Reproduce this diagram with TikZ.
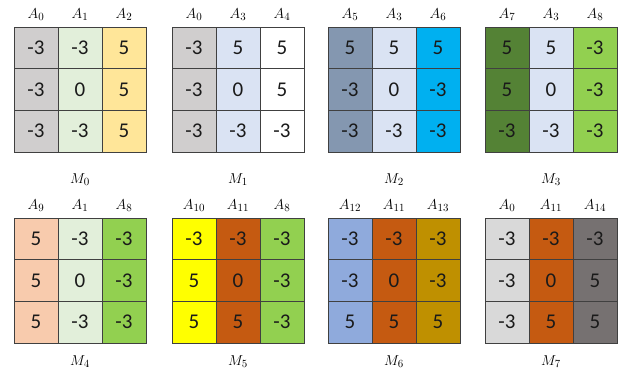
\documentclass[tikz,border=0pt]{standalone}
\usepackage{fontspec}
\setsansfont{Carlito}
\definecolor{gridc}{HTML}{404040}
\definecolor{cgray}{HTML}{D0CECE}
\definecolor{clgray}{HTML}{D9D9D9}
\definecolor{clgreen}{HTML}{E2EFDA}
\definecolor{clyel}{HTML}{FFE699}
\definecolor{clblue}{HTML}{DAE3F3}
\definecolor{cbgray}{HTML}{8497B0}
\definecolor{ccyan}{HTML}{00B0F0}
\definecolor{cdgreen}{HTML}{548235}
\definecolor{cgreen}{HTML}{92D050}
\definecolor{cpeach}{HTML}{F8CBAD}
\definecolor{cyellow}{HTML}{FFFF00}
\definecolor{corange}{HTML}{C55A11}
\definecolor{ccblue}{HTML}{8FAADC}
\definecolor{cgold}{HTML}{BF9000}
\definecolor{cdgray}{HTML}{767171}
\definecolor{cwhite}{HTML}{FFFFFF}
\definecolor{numc}{HTML}{1A1A1A}
% #1 name, #2 left x, #3 top y, #4 columns, #5 label, #6 label y
\newcommand\mygrid[6]{%
  \foreach \c/\col/\hd/\va/\vb/\vc in {#4} {
    \node[cell, fill=\col] (#1-\c-1) at ({#2+(\c-0.5)*44}, {#3+41.67*0.5}) {\va};
    \node[cell, fill=\col] (#1-\c-2) at ({#2+(\c-0.5)*44}, {#3+41.67*1.5}) {\vb};
    \node[cell, fill=\col] (#1-\c-3) at ({#2+(\c-0.5)*44}, {#3+41.67*2.5}) {\vc};
    \node[hdr] (#1-h\c) at ({#2+(\c-0.5)*44}, {#3-12}) {$\hd$};
  }
  \node[hdr] (#1-lab) at ({#2+66}, {#6}) {$#5$};
}
\begin{document}
\begin{tikzpicture}[x=1pt,y=-1pt,
  cell/.style={draw=gridc, line width=0.8pt, minimum width=44pt, minimum height=41.67pt,
    inner sep=0pt, text=numc, font=\sffamily\fontsize{21}{21}\selectfont},
  hdr/.style={inner sep=0pt, font=\fontsize{15}{15}\selectfont}]
\useasboundingbox (0,0) rectangle (630,374);
\mygrid{m0}{14}{27}{1/cgray/A_0/-3/-3/-3, 2/clgreen/A_1/-3/0/-3, 3/clyel/A_2/5/5/5}{M_0}{180}
\mygrid{m1}{172}{27}{1/cgray/A_0/-3/-3/-3, 2/clblue/A_3/5/0/-3, 3/cwhite/A_4/5/5/-3}{M_1}{180}
\mygrid{m2}{328}{27}{1/cbgray/A_5/5/-3/-3, 2/clblue/A_3/5/0/-3, 3/ccyan/A_6/5/-3/-3}{M_2}{180}
\mygrid{m3}{485}{27}{1/cdgreen/A_7/5/5/-3, 2/clblue/A_3/5/0/-3, 3/cgreen/A_8/-3/-3/-3}{M_3}{180}
\mygrid{m4}{14}{218}{1/cpeach/A_9/5/5/5, 2/clgreen/A_1/-3/0/-3, 3/cgreen/A_8/-3/-3/-3}{M_4}{362}
\mygrid{m5}{172}{218}{1/cyellow/A_{10}/-3/5/5, 2/corange/A_{11}/-3/0/5, 3/cgreen/A_8/-3/-3/-3}{M_5}{362}
\mygrid{m6}{328}{218}{1/ccblue/A_{12}/-3/-3/5, 2/corange/A_{11}/-3/0/5, 3/cgold/A_{13}/-3/-3/5}{M_6}{362}
\mygrid{m7}{485}{218}{1/clgray/A_0/-3/-3/-3, 2/corange/A_{11}/-3/0/5, 3/cdgray/A_{14}/-3/5/5}{M_7}{362}
\end{tikzpicture}
\end{document}
